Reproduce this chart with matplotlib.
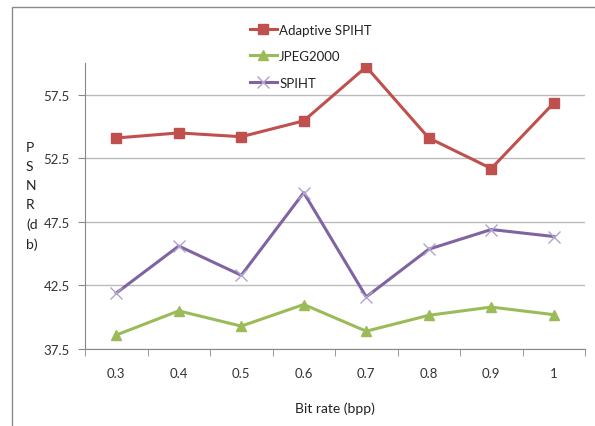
import matplotlib
matplotlib.use('Agg')
import matplotlib.pyplot as plt
from matplotlib.patches import Rectangle
from matplotlib.ticker import FixedLocator

# dados
bit_rates = ['0.3', '0.4', '0.5', '0.6', '0.7', '0.8', '0.9', '1']
adaptive_spiht = [54.1, 54.5, 54.2, 55.45, 59.7, 54.1, 51.7, 56.85]
jpeg2000 = [38.6, 40.5, 39.3, 41.0, 38.9, 40.15, 40.8, 40.2]
spiht = [41.9, 45.6, 43.3, 49.8, 41.6, 45.35, 46.9, 46.35]
y_ticks = [37.5, 42.5, 47.5, 52.5, 57.5]

plt.rcParams['font.family'] = ['Lato', 'DejaVu Sans']

W, H = 595, 427
fig = plt.figure(figsize=(W / 100, H / 100), dpi=100)
ax = fig.add_axes([85 / W, 1 - 350 / H, 500 / W, (350 - 64) / H])

x = list(range(len(bit_rates)))
ax.plot(x, adaptive_spiht, color='#C0504D', lw=2.2, marker='s', ms=7,
        label='Adaptive SPIHT')
ax.plot(x, jpeg2000, color='#9BBB59', lw=2.2, marker='^', ms=7,
        label='JPEG2000')
ax.plot(x, spiht, color='#8064A2', lw=2.2, marker='x', ms=9, mew=1,
        mec='#b0a4cc', label='SPIHT')

ax.set_xlim(-0.5, len(bit_rates) - 0.5)
ax.set_ylim(37.5, 60)
ax.set_yticks(y_ticks)
ax.set_yticklabels([f'{v:.1f}' for v in y_ticks])
ax.yaxis.grid(True, color='#bcbcbc', lw=1)
ax.set_axisbelow(True)

ax.set_xticks(x)
ax.set_xticklabels(bit_rates)
ax.tick_params(axis='x', length=0, pad=13, labelsize=9.5, colors='#333333')
ax.xaxis.set_minor_locator(FixedLocator([i + 0.5 for i in range(-1, len(bit_rates))]))
ax.tick_params(axis='x', which='minor', length=5, color='#888888')
ax.tick_params(axis='y', length=5, color='#888888', labelsize=9.5,
               labelcolor='#333333', pad=6)

for s in ['top', 'right']:
    ax.spines[s].set_visible(False)
for s in ['left', 'bottom']:
    ax.spines[s].set_color('#888888')

ax.set_xlabel('Bit rate (bpp)', fontsize=10, color='#222222', labelpad=16)
fig.text(26 / W, 1 - 142 / H, 'P\nS\nN\nR\n(d\nb)', fontsize=10,
         color='#222222', va='top', ha='left', linespacing=1.7)

leg = fig.legend(loc='upper left', bbox_to_anchor=(243 / W, 1 - 18 / H),
                 frameon=False, fontsize=9.5, handlelength=2.1,
                 handletextpad=0.15, labelspacing=1.1, borderpad=0)
for t in leg.get_texts():
    t.set_color('#222222')

# moldura externa
fig.patches.append(Rectangle((12 / W, -0.1), 1, 1 - 8 / H + 0.1,
                             transform=fig.transFigure, fill=False,
                             edgecolor='#8a8a8a', lw=1))

fig.savefig('out.png', dpi=100)
